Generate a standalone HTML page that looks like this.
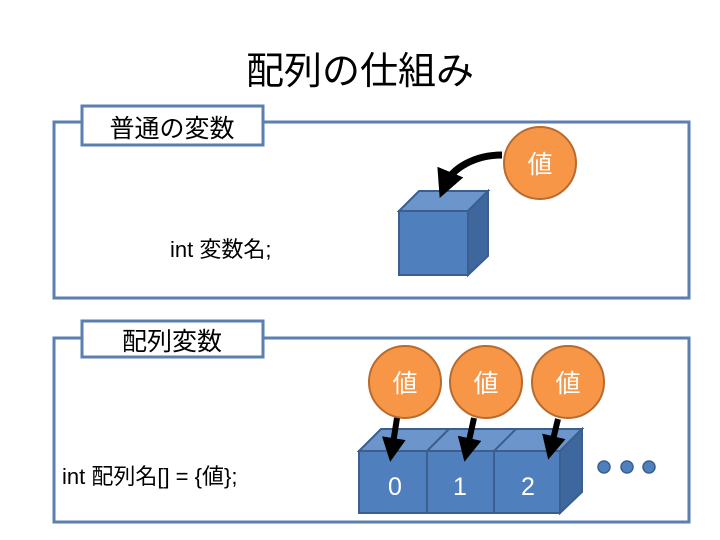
<!DOCTYPE html>
<html><head><meta charset="utf-8"><style>
html,body{margin:0;padding:0;background:#fff;width:720px;height:540px;overflow:hidden}
svg text{font-family:"Liberation Sans","Noto Sans CJK JP",sans-serif}
</style></head><body>
<svg width="720" height="540" viewBox="0 0 720 540" xmlns="http://www.w3.org/2000/svg">
<defs>
<marker id="ah" markerWidth="4" markerHeight="4" refX="2" refY="2" orient="auto" markerUnits="strokeWidth">
<path d="M0,0 L4,2 L0,4 z" fill="#000"/></marker>
</defs>
<text x="360" y="84" font-size="38" text-anchor="middle" fill="#000">配列の仕組み</text>
<!-- top section -->
<rect x="54" y="122" width="635" height="176" fill="none" stroke="#5a7fb0" stroke-width="3"/>
<rect x="82" y="106" width="181" height="39" fill="#fff" stroke="#5a7fb0" stroke-width="3"/>
<text x="172" y="137" font-size="25" text-anchor="middle">普通の変数</text>
<text x="170" y="257" font-size="22">int 変数名;</text>
<!-- cube -->
<polygon points="399,211 419,191 488,191 468,211" fill="#6c95cc" stroke="#3a5f8e" stroke-width="2"/>
<polygon points="468,211 488,191 488,256 468,275" fill="#3e679e" stroke="#3a5f8e" stroke-width="2"/>
<rect x="399" y="211" width="69" height="64" fill="#4f7fbd" stroke="#3a5f8e" stroke-width="2"/>
<path d="M502,155 C475,155 452,168 445,185" fill="none" stroke="#000" stroke-width="7" marker-end="url(#ah)"/>
<circle cx="540" cy="163" r="36" fill="#f79646" stroke="#b96a2e" stroke-width="2"/>
<text x="540" y="173" font-size="25" fill="#fff" text-anchor="middle">値</text>
<!-- bottom section -->
<rect x="54" y="338" width="635" height="184" fill="none" stroke="#5a7fb0" stroke-width="3"/>
<rect x="82" y="321" width="181" height="36" fill="#fff" stroke="#5a7fb0" stroke-width="3"/>
<text x="172" y="350" font-size="25" text-anchor="middle">配列変数</text>
<text x="62" y="484" font-size="22">int 配列名[] = {値};</text>
<!-- array -->
<polygon points="359,451 381,429 582,429 560,451" fill="#6c95cc" stroke="#3a5f8e" stroke-width="2"/>
<line x1="427" y1="451" x2="449" y2="429" stroke="#3a5f8e" stroke-width="2"/>
<line x1="494" y1="451" x2="516" y2="429" stroke="#3a5f8e" stroke-width="2"/>
<polygon points="560,451 582,429 582,492 560,513" fill="#3e679e" stroke="#3a5f8e" stroke-width="2"/>
<rect x="359" y="451" width="68" height="62" fill="#4f7fbd" stroke="#3a5f8e" stroke-width="2"/>
<rect x="427" y="451" width="67" height="62" fill="#4f7fbd" stroke="#3a5f8e" stroke-width="2"/>
<rect x="494" y="451" width="66" height="62" fill="#4f7fbd" stroke="#3a5f8e" stroke-width="2"/>
<text x="395" y="495" font-size="25" fill="#fff" text-anchor="middle">0</text>
<text x="460" y="495" font-size="25" fill="#fff" text-anchor="middle">1</text>
<text x="528" y="495" font-size="25" fill="#fff" text-anchor="middle">2</text>
<circle cx="405" cy="382" r="36" fill="#f79646" stroke="#b96a2e" stroke-width="2"/>
<circle cx="486" cy="382" r="36" fill="#f79646" stroke="#b96a2e" stroke-width="2"/>
<circle cx="568" cy="382" r="36" fill="#f79646" stroke="#b96a2e" stroke-width="2"/>
<text x="405" y="392" font-size="25" fill="#fff" text-anchor="middle">値</text>
<text x="486" y="392" font-size="25" fill="#fff" text-anchor="middle">値</text>
<text x="568" y="392" font-size="25" fill="#fff" text-anchor="middle">値</text>
<line x1="397" y1="418" x2="392" y2="450" stroke="#000" stroke-width="6" marker-end="url(#ah)"/>
<line x1="474" y1="418" x2="467" y2="450" stroke="#000" stroke-width="6" marker-end="url(#ah)"/>
<line x1="558" y1="419" x2="551" y2="448" stroke="#000" stroke-width="6" marker-end="url(#ah)"/>
<circle cx="604" cy="467" r="6" fill="#4f7fbd" stroke="#3a5f8e" stroke-width="1.5"/>
<circle cx="627" cy="467" r="6" fill="#4f7fbd" stroke="#3a5f8e" stroke-width="1.5"/>
<circle cx="649" cy="467" r="6" fill="#4f7fbd" stroke="#3a5f8e" stroke-width="1.5"/>
</svg>
</body></html>
